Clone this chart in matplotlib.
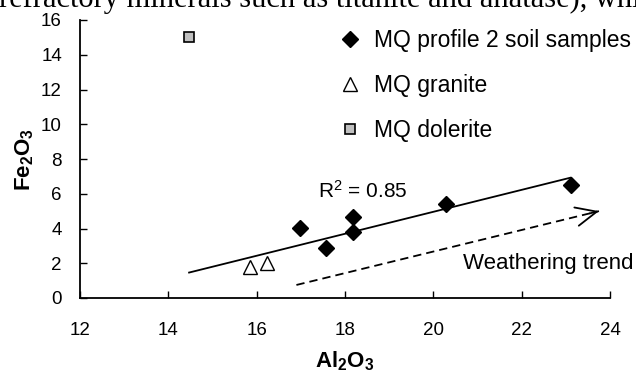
import numpy as np
import matplotlib.pyplot as plt

plt.rcParams['font.family'] = ['Liberation Sans', 'DejaVu Sans']
plt.rcParams['mathtext.fontset'] = 'custom'
plt.rcParams['mathtext.rm'] = 'Liberation Sans'
plt.rcParams['mathtext.it'] = 'Liberation Sans:italic'
plt.rcParams['mathtext.bf'] = 'Liberation Sans:bold'

# ---- data ----
soil_al = [16.98, 17.56, 18.19, 18.19, 20.28, 23.11]
soil_fe = [4.05, 2.86, 4.64, 3.82, 5.41, 6.50]
granite_al = [15.85, 16.23]
granite_fe = [1.80, 2.00]
dolerite_al = [14.47]
dolerite_fe = [15.0]
trend_start = [16.9, 0.75]
trend_end = [23.75, 5.0]
r2_text = 'R$^2$ = 0.85'
x_ticks = [12, 14, 16, 18, 20, 22, 24]
y_ticks = [0, 2, 4, 6, 8, 10, 12, 14, 16]
legend_labels = ['MQ profile 2 soil samples', 'MQ granite', 'MQ dolerite']
top_text = 'refractory minerals such as titanite and anatase), while'

W, H = 636, 379
fig = plt.figure(figsize=(W / 100, H / 100), dpi=100)
ax = fig.add_axes([80 / W, 81 / H, 530 / W, 278 / H])

# regression (soil + granite)
fx = np.array(soil_al + granite_al)
fy = np.array(soil_fe + granite_fe)
coef = np.polyfit(fx, fy, 1)
lx = np.array([min(dolerite_al), max(soil_al)])
ax.plot(lx, np.polyval(coef, lx), color='black', lw=1.3, zorder=2)

h1, = ax.plot(soil_al, soil_fe, ls='none', marker='D', ms=7.8, color='black',
              mec='black', zorder=3)
h2, = ax.plot(granite_al, granite_fe, ls='none', marker='^', ms=9.5, mfc='white',
              mec='black', mew=1.0, zorder=3)
h3, = ax.plot(dolerite_al, dolerite_fe, ls='none', marker='s', ms=7.5, mfc='#c0c0c0',
              mec='black', mew=1.2, zorder=3)

# weathering trend arrow
ax.plot([trend_start[0], trend_end[0]], [trend_start[1], trend_end[1]], color='black',
        lw=1.3, ls=(0, (4.6, 2.8)), zorder=2)
back = [trend_end[0] - 0.03 * (trend_end[0] - trend_start[0]),
        trend_end[1] - 0.03 * (trend_end[1] - trend_start[1])]
ax.annotate('', xy=trend_end, xytext=back,
            arrowprops=dict(arrowstyle='->,head_length=1.0,head_width=0.45',
                            lw=1.3, color='black', mutation_scale=15,
                            shrinkA=0, shrinkB=0))

ax.text(17.39, 5.75, r2_text, fontsize=15, ha='left', va='baseline')
ax.text(20.67, 2.0, 'Weathering trend', fontsize=16, ha='left', va='center')

ax.set_xlim(12, 24)
ax.set_ylim(0, 16)
ax.set_xticks(x_ticks)
ax.set_yticks(y_ticks)
ax.tick_params(direction='in', length=5, width=1, labelsize=13.5)
ax.tick_params(axis='x', pad=17)
ax.tick_params(axis='y', pad=13)
for s in ['top', 'right']:
    ax.spines[s].set_visible(False)
for s in ['left', 'bottom']:
    ax.spines[s].set_linewidth(1.3)

ax.set_xlabel(r'$\mathbf{Al_2O_3}$', fontsize=16, labelpad=8)
ax.set_ylabel(r'$\mathbf{Fe_2O_3}$', fontsize=16, labelpad=4)

leg = ax.legend([h1, h2, h3], legend_labels, loc='upper left',
                bbox_to_anchor=(340 / W, 1 - 29 / H), bbox_transform=fig.transFigure,
                frameon=False, borderpad=0, borderaxespad=0, handlelength=0.9,
                handletextpad=0.57, labelspacing=0.96, fontsize=16.5, numpoints=1)

fig.text(-0.002, 1 - 7 / H, top_text, family=['Liberation Serif'], fontsize=22,
         va='baseline', ha='left')

fig.savefig('out.png', dpi=100)
